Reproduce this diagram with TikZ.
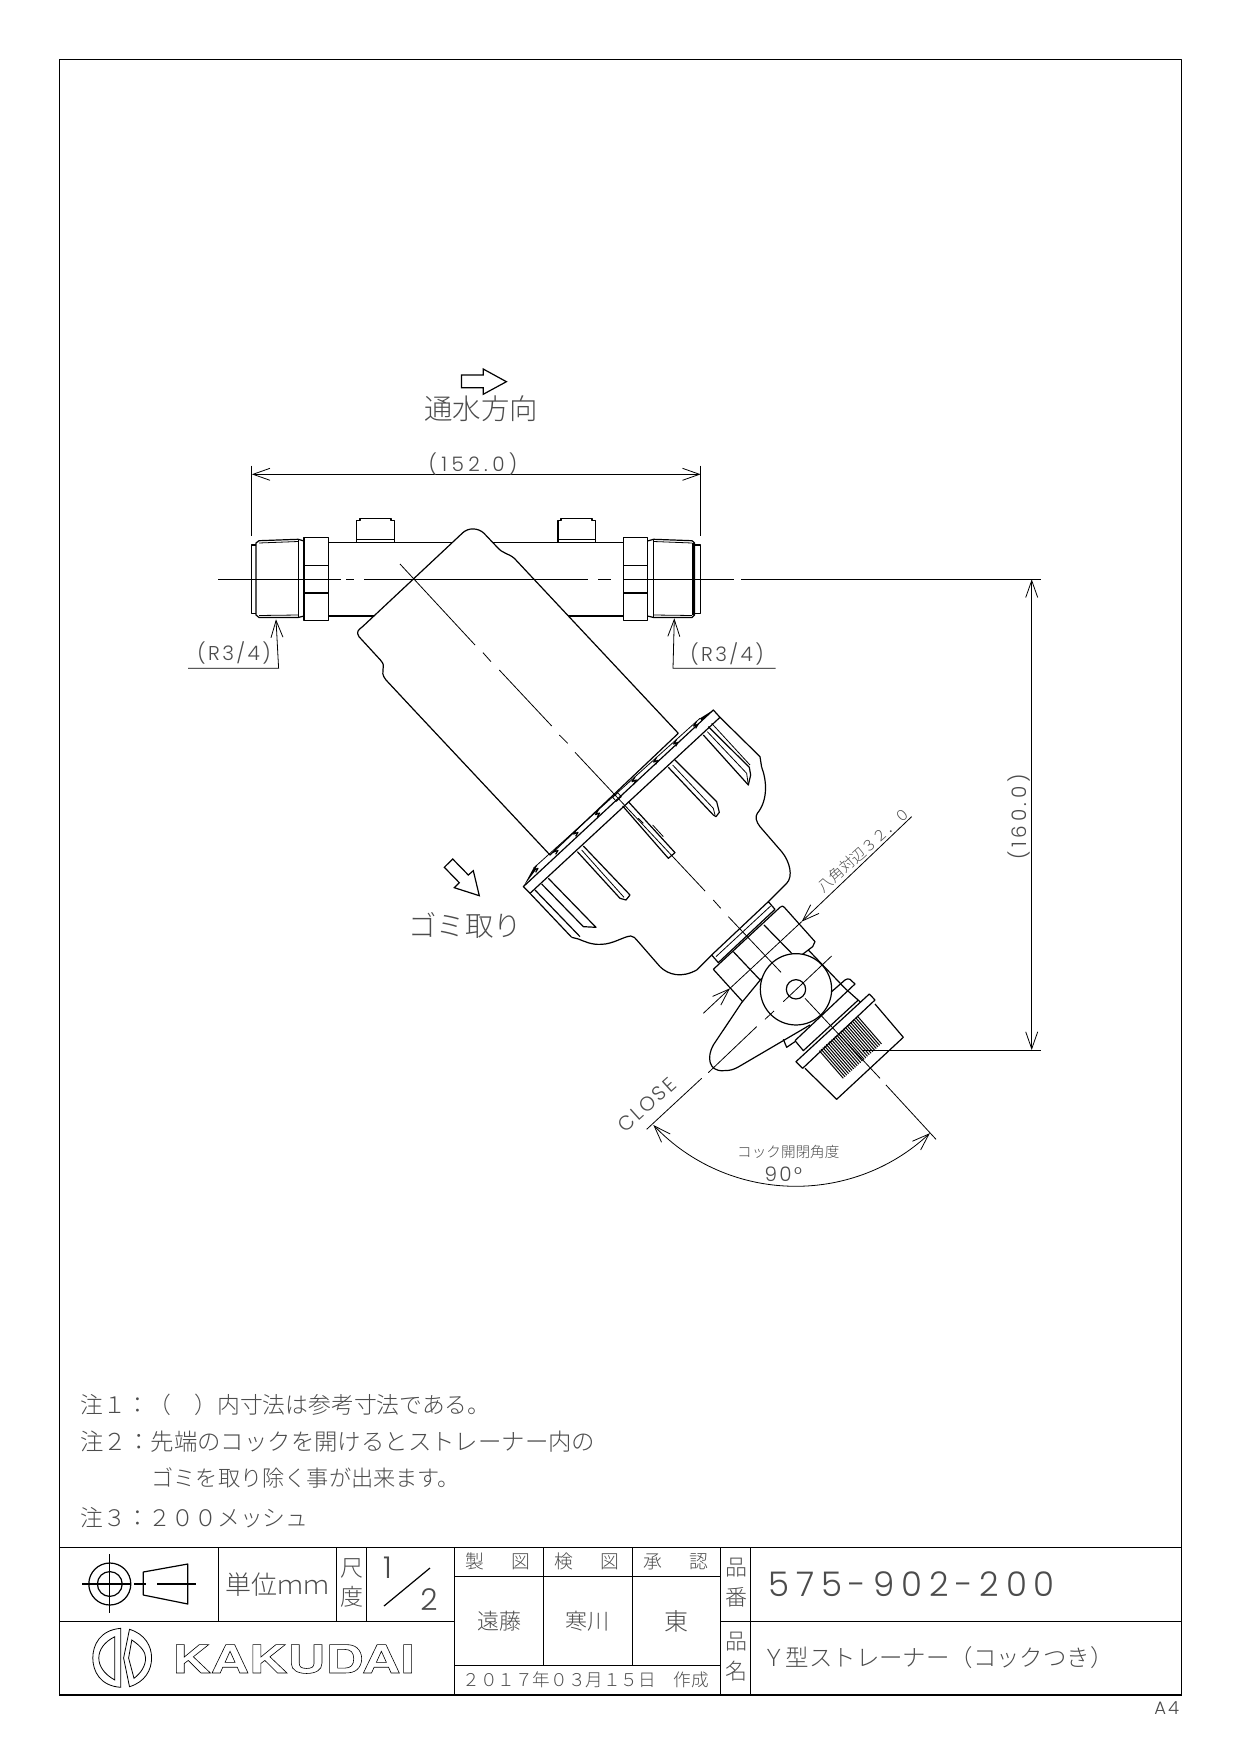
\documentclass[tikz,border=0pt]{standalone}
\usepackage{fontspec}
\usetikzlibrary{arrows.meta}
\newfontfamily\cjk{Noto Sans CJK JP Light}
\newfontfamily\cadfont{Poppins Light}
\newfontfamily\logofont[FakeStretch=1.36]{TeX Gyre Heros}
\newcommand{\jp}[1]{\cjk\fontsize{#1}{#1}\selectfont}
\newcommand{\cadsize}[2]{\cadfont\addfontfeature{LetterSpace=#2}\fontsize{#1}{#1}\selectfont}
\tikzset{
    lbl/.style = {inner sep=0pt,text=black!70},
    notetext/.style = {lbl,anchor=west,font=\jp{11.5}},
    cell/.style = {lbl,font=\jp{11}},
    head/.style = {lbl,font=\jp{9.4}},
    dimtext/.style = {lbl,font=\cadsize{10}{12}},
    partline/.style = {line width=0.6pt,line join=round},
    heavyline/.style = {line width=1.1pt},
    thinline/.style = {line width=0.4pt},
    dimline/.style = {line width=0.4pt,{Straight Barb[length=8.5pt,width=6pt]}-{Straight Barb[length=8.5pt,width=6pt]}},
    tipline/.style = {line width=0.4pt,-{Straight Barb[length=8.5pt,width=6pt]}},
    hollow/.style = {line width=0.6pt,line join=miter,fill=white},
}
\begin{document}
\begin{tikzpicture}[x=0.5pt,y=-0.5pt]
\useasboundingbox (0,0) rectangle (1240,1754);
% frame and title block
\draw[partline] (59.3,59.3) rectangle (1181.7,1695);
\draw[heavyline] (59.3,1695) -- (1181.7,1695);
\draw[partline] (59.3,1547.3) -- (1181.7,1547.3);
\draw[partline] (59.3,1621.3) -- (454.6,1621.3);
\draw[partline] (720.5,1621.3) -- (1181.7,1621.3);
\draw[partline] (454.6,1576.3) -- (720.5,1576.3);
\draw[partline] (454.6,1665.3) -- (720.5,1665.3);
\draw[partline] (218.6,1547.3) -- (218.6,1621.3);
\draw[partline] (336.6,1547.3) -- (336.6,1621.3);
\draw[partline] (366.4,1547.3) -- (366.4,1621.3);
\draw[partline] (454.6,1547.3) -- (454.6,1695);
\draw[partline] (543.7,1547.3) -- (543.7,1665.3);
\draw[partline] (632.3,1547.3) -- (632.3,1665.3);
\draw[partline] (720.5,1547.3) -- (720.5,1695);
\draw[partline] (750.3,1547.3) -- (750.3,1695);
% projection symbol
\draw[partline] (109.8,1584) circle[radius=21];
\draw[partline] (109.8,1584) circle[radius=12.4];
\draw[partline] (109.8,1554) -- (109.8,1613);
\draw[partline] (82.2,1584) -- (131,1584);
\draw[partline] (134,1584) -- (145.6,1584);
\draw[partline] (157,1584) -- (196,1584);
\draw[partline] (143.3,1572) -- (187.8,1564) -- (187.8,1604) -- (143.3,1595) -- cycle;
% logo
\draw[thinline] (120.8,1628.3) .. controls (100,1630) and (92.8,1645) .. (92.8,1658) .. controls (92.8,1671) and (100,1686) .. (120.8,1687.3) -- cycle;
\draw[thinline] (114.8,1636.7) .. controls (104,1642) and (98.8,1650) .. (98.8,1658) .. controls (98.8,1666) and (104,1674) .. (114.8,1680) -- cycle;
\draw[thinline] (129.5,1629.3) .. controls (145,1634) and (151.6,1646) .. (151.6,1658) .. controls (151.6,1670) and (145,1682) .. (129.5,1686.7) -- (123.6,1658) -- cycle;
\draw[thinline] (131.8,1640) .. controls (141,1646) and (145.6,1652) .. (145.6,1658) .. controls (145.6,1666) and (141,1673) .. (134,1678.3) -- (128.6,1658) -- cycle;
\node[inner sep=0pt,anchor=west,font=\logofont\bfseries\fontsize{19.5}{20}\selectfont] (logotext) at (172,1659) {\special{pdf:code 1 Tr 0.3 w}KAKUDAI\special{pdf:code 0 Tr}};
% title block texts
\node[lbl,font=\jp{13}] (unit) at (277,1585) {単位^^^^ff4d^^^^ff4d};
\node[cell,font=\jp{11.5}] (shaku) at (352,1568) {尺};
\node[cell,font=\jp{11.5}] (do) at (352,1597) {度};
\node[lbl,font=\cadsize{15}{0}] (scaleone) at (387.6,1568) {1};
\draw[partline] (384,1606) -- (430,1568);
\node[lbl,font=\cadsize{15}{0}] (scaletwo) at (429,1600) {2};
\node[head] (seizu1) at (475,1561.7) {製};
\node[head] (seizu2) at (520.7,1561.7) {図};
\node[head] (kenzu1) at (564,1561.7) {検};
\node[head] (kenzu2) at (610,1561.7) {図};
\node[head] (shonin1) at (653,1561.7) {承};
\node[head] (shonin2) at (699,1561.7) {認};
\node[cell] (drawer) at (499,1621) {遠藤};
\node[cell] (checker) at (587,1621) {寒川};
\node[cell,font=\jp{12}] (approver) at (676,1621) {東};
\node[lbl,anchor=west,font=\jp{8.8}] (date) at (462,1680) {^^^^ff12^^^^ff10^^^^ff11^^^^ff17年^^^^ff10^^^^ff13月^^^^ff11^^^^ff15日^^^^3000作成};
\node[cell] (hin1) at (736,1568) {品};
\node[cell] (ban) at (736,1597) {番};
\node[cell] (hin2) at (736,1642) {品};
\node[cell] (mei) at (736,1671) {名};
\node[lbl,anchor=west,font=\cadsize{17}{20}] (partno) at (768,1584) {575-902-200};
\node[lbl,anchor=west,font=\jp{11.7}] (partname) at (762,1658) {^^^^ff39型ストレーナー^^^^ff08コックつき^^^^ff09};
\node[lbl,font=\cadsize{9}{12}] (sheet) at (1166.7,1708) {A4};
% notes
\node[notetext,font=\jp{11.4}] (note1) at (80,1405) {注^^^^ff11^^^^ff1a^^^^ff08^^^^3000^^^^ff09内寸法は参考寸法である。};
\node[notetext,font=\jp{11.7}] (note2) at (80,1441.7) {注^^^^ff12^^^^ff1a先端のコックを開けるとストレーナー内の};
\node[notetext,font=\jp{11.1}] (note3) at (151,1478) {ゴミを取り除く事が出来ます。};
\node[notetext,font=\jp{11.4}] (note4) at (80,1518) {注^^^^ff13^^^^ff1a^^^^ff12^^^^ff10^^^^ff10メッシュ};
% flow arrow
\draw[hollow] (461.4,375) -- (483.2,375) -- (483.2,369) -- (506.4,381.7) -- (483.2,394.3) -- (483.2,387.7) -- (461.4,387.7) -- cycle;
\node[lbl,font=\jp{14.2}] (flow) at (481,409) {通水方向};
% pipe
\draw[partline] (328.6,542.3) -- (623.2,542.3);
\draw[heavyline] (328.6,616) -- (623.2,616);
\draw[partline] (304,537.3) rectangle (328.6,620.7);
\draw[partline] (623.2,537.3) rectangle (647.5,620.7);
\draw[thinline] (304,565) -- (328.6,565);
\draw[heavyline] (304,593.3) -- (328.6,593.3);
\draw[thinline] (623.2,565) -- (647.5,565);
\draw[heavyline] (623.2,593.3) -- (647.5,593.3);
% threads
\draw[partline] (304,541) -- (298.2,539.3) -- (259,540.7) -- (256,543) -- (256,615) -- (259,617.5) -- (298.2,617.5) -- (304,616);
\draw[partline] (298.2,539.3) -- (298.2,617.5);
\draw[thinline] (259,543) -- (298.2,541.5);
\draw[thinline] (259,615.5) -- (298.2,615);
\draw[partline] (256,545) -- (251.8,545) -- (251.8,613.3) -- (256,613.3);
\draw[partline] (647.5,541) -- (653.6,539.3) -- (692,540.7) -- (694.6,543) -- (694.6,615) -- (692,617.5) -- (653.6,617.5) -- (647.5,616);
\draw[partline] (653.6,539.3) -- (653.6,617.5);
\draw[thinline] (653.6,541.5) -- (692,543);
\draw[thinline] (653.6,615) -- (692,615.5);
\draw[partline] (693,543) -- (693,615);
\draw[partline] (694.6,545) -- (700.7,545) -- (700.7,613.3) -- (694.6,613.3);
% bosses
\draw[partline] (356.4,542.3) -- (356.4,520.5) -- (360,520.5) -- (360,518.3) -- (391,518.3) -- (391,520.5) -- (394.6,520.5) -- (394.6,542.3);
\draw[thinline] (356.4,539.3) -- (394.6,539.3);
\draw[partline] (557.9,542.3) -- (557.9,520.5) -- (561,520.5) -- (561,518.3) -- (592,518.3) -- (592,520.5) -- (595.7,520.5) -- (595.7,542.3);
\draw[thinline] (557.9,539.3) -- (595.7,539.3);
% canister
\draw[partline,fill=white] (362.5,626.7) -- (462.5,533) .. controls (468,527.5) and (478,527.5) .. (484,533.3) -- (497,547) .. controls (503,554) and (508,553) .. (514.3,558.3) -- (678.3,733.3) -- (550,855) -- (414,710) -- (386,680) .. controls (378,670) and (388,668) .. (380.4,660) -- (359,636.7) .. controls (356,632) and (358,630) .. (362.5,626.7) -- cycle;
% centre line of the pipe
\coordinate (clA) at (218,579.3);
\coordinate (clB) at (1040.7,579.3);
\draw[thinline] (clA) -- (341,579.3);
\draw[thinline] (346.4,579.3) -- (353.6,579.3);
\draw[thinline] (364.3,579.3) -- (587.5,579.3);
\draw[thinline] (598.2,579.3) -- (610.7,579.3);
\draw[thinline] (623.2,579.3) -- (734,579.3);
\draw[thinline] (741,579.3) -- (clB);
% axis of the strainer
\draw[thinline] (400,564) -- (475,645);
\draw[thinline] (483,652.7) -- (491,661.7);
\draw[thinline] (499.3,670) -- (551.7,726);
\draw[thinline] (559.3,735) -- (567.7,743.3);
\draw[thinline] (575,752.3) -- (705,891);
\draw[thinline] (713.3,900) -- (720.7,908.3);
% outer dimensions
\coordinate (lenL) at (251.8,474.3);
\coordinate (lenR) at (700.7,474.3);
\draw[thinline] (251.8,465.7) -- (251.8,536);
\draw[thinline] (700.7,465.7) -- (700.7,536);
\draw[dimline] (lenL) -- (lenR);
\node[lbl,font=\cadsize{10}{22}] (lentext) at (473,464) {(152.0)};
\coordinate (threadLa) at (188,668.3);
\coordinate (threadLb) at (278.6,668.3);
\coordinate (threadLc) at (276,619.3);
\draw[tipline] (threadLa) -- (threadLb) -- (threadLc);
\node[dimtext] (threadLtext) at (234,653) {(R3/4)};
\coordinate (threadRa) at (775.5,668.3);
\coordinate (threadRb) at (673,668.3);
\coordinate (threadRc) at (674.3,618.3);
\draw[tipline] (threadRa) -- (threadRb) -- (threadRc);
\node[dimtext] (threadRtext) at (727,653.5) {(R3/4)};
\coordinate (hgtT) at (1031.7,579.3);
\coordinate (hgtB) at (1031.7,1050);
\draw[dimline] (hgtT) -- (hgtB);
\node[lbl,rotate=90,font=\cadsize{10}{18}] (hgttext) at (1019,817) {(160.0)};
% waste arrow
\draw[hollow] (444.3,867.3) -- (452.7,859) -- (468.3,875) -- (473.3,870.7) -- (479.3,895.7) -- (454.3,887.7) -- (459.3,882.7) -- cycle;
\node[lbl,font=\jp{14.2}] (waste) at (465,925) {ゴミ取り};
% flange, cock and cap in the coordinates of a 3x crop
\begin{scope}[shift={(500,680)},x=0.5pt/3,y=-0.5pt/3]
\draw[partline] (70,620) -- (640,90) -- (660,112) -- (90,640) -- cycle;
\draw[thinline] (100,565) -- (600,115);
\foreach \px/\py in {110/556,170/502,230/448,295/390,405/291,470/232,530/178,590/124} {
  \draw[partline] (\px,\py) -- ++(-9,14) -- ++(13,-5) -- ++(-7,12);
}
\draw[thinline] (338,352) -- (353,338) -- (364,350) -- (349,364) -- cycle;
\fill (70,620) -- (100,565) -- (110,566) -- cycle;
\fill (640,90) -- (600,115) -- (605,122) -- cycle;
% ribs
\draw[partline] (90,640) -- (215,772);
\draw[partline] (105,630) -- (240,770);
\draw[partline] (125,612) -- (250,740) -- (288,742) -- (145,595);
\draw[partline] (232,515) -- (360,655) -- (378,660) -- (390,645) -- (250,498);
\draw[thinline] (245,510) -- (372,652);
\draw[partline] (368,378) -- (505,535) -- (525,518) -- (385,365);
\draw[thinline] (415,415) -- (430,430);
\draw[thinline] (458,435) -- (490,470);
\draw[partline] (505,262) -- (640,405) -- (648,410) -- (658,397) -- (650,365) -- (525,240);
\draw[thinline] (518,255) -- (640,385) -- (645,405);
\draw[partline] (610,165) -- (745,315) -- (752,285) -- (748,262) -- (625,140);
\draw[thinline] (622,155) -- (740,280) -- (745,315);
\draw[partline] (660,112) -- (780,230) -- (785,262);
\draw[thinline] (635,130) -- (750,255);
% housing
\draw[partline] (215,772) -- (235,777) .. controls (255,785) and (275,795) .. (305,793) .. controls (340,792) and (370,770) .. (392,768) .. controls (402,768) and (405,775) .. (412,782) -- (480,860) .. controls (505,885) and (545,895) .. (590,870) -- (635,825);
\draw[partline] (785,262) .. controls (800,300) and (805,360) .. (772,400) .. controls (765,410) and (768,425) .. (780,440) -- (845,515) .. controls (870,545) and (880,590) .. (860,610) -- (805,665);
% collar and octagon nut
\draw[partline] (635,825) -- (805,665) -- (825,688) -- (655,848) -- cycle;
\draw[thinline] (648,830) -- (812,678);
\draw[partline] (640,868) -- (840,682) .. controls (845,677) and (850,677) .. (853,682) -- (945,785) -- (938,800) -- (905,825);
\draw[partline] (640,868) -- (728,965);
\draw[partline] (700,815) -- (785,905);
\draw[partline] (792,735) -- (880,825);
\draw[partline] (925,810) -- (1035,925);
% handle and valve
\draw[partline,fill=white] (785,895) -- (725,968) -- (640,1095) .. controls (620,1130) and (625,1175) .. (670,1172) .. controls (690,1172) and (700,1170) .. (720,1158) -- (930,1035);
\draw[partline,fill=white] (888,928) circle[radius=107];
\draw[partline] (888,928) circle[radius=29];
% cap
\draw[partline] (850,1078) -- (860,1102) -- (885,1085);
\draw[partline] (885,1082) -- (1065,912) -- (1050,898) .. controls (1045,895) and (1040,897) .. (1035,900) -- (995,935);
\draw[partline] (885,1082) -- (910,1112) -- (1075,960);
\draw[partline] (1035,925) -- (1082,967);
\draw[partline] (888,1145) -- (1108,942) -- (1125,960) -- (908,1165) -- cycle;
\draw[partline] (915,1165) -- (1010,1258) -- (1210,1072) -- (1125,972);
\foreach \k in {0,1,...,22} {
  \draw[line width=0.5pt] ({958+\k*5.2},{1112-\k*4.7}) -- ++(72,83);
}
% axes
\draw[thinline] (685,710) -- (843,877);
\draw[thinline] (915,955) -- (1140,1195);
\draw[thinline] (1158,1215) -- (1308,1378);
\draw[thinline] (440,1348) -- (605,1195);
\draw[thinline] (625,1178) -- (770,1040);
\draw[thinline] (795,1018) -- (822,993);
\draw[thinline] (850,965) -- (995,828);
% octagon dimension
\coordinate (octA) at (1235,410);
\coordinate (octB) at (905,725);
\coordinate (octC) at (690,925);
\coordinate (octD) at (610,1000);
\draw[tipline] (octA) -- (octB);
\draw[thinline] (octB) -- (octC);
\draw[tipline] (octD) -- (octC);
% stop line of the height
\coordinate (hgtS) at (1090,1110);
\coordinate (hgtE) at (1622,1110);
\draw[thinline] (hgtS) -- (hgtE);
% swing angle
\draw[dimline] (460,1335) arc[start angle=136.4,end angle=47,radius=590];
\node[lbl,rotate=42,font=\jp{7.4}] (octtext) at (1090,510) {八角対辺^^^^ff13^^^^ff12^^^^ff0e^^^^ff10};
\node[lbl,rotate=42,font=\cadsize{10}{12}] (close) at (440,1275) {CLOSE};
\node[lbl,font=\jp{7.3}] (swing) at (865,1415) {コック開閉角度};
\node[dimtext] (swingtext) at (850,1483) {90°};
\end{scope}
\end{tikzpicture}
\end{document}
